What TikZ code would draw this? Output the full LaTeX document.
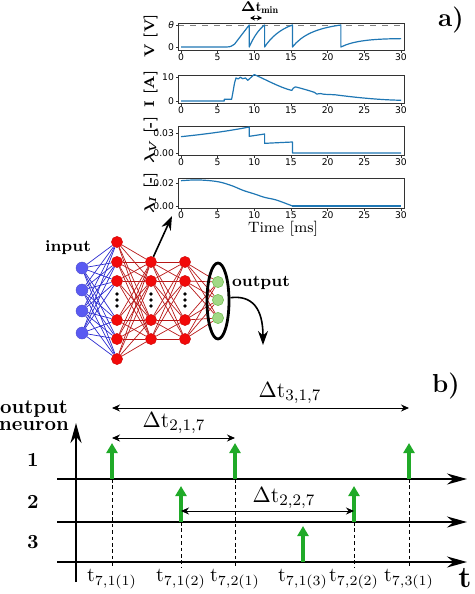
\documentclass[tikz,border=0pt]{standalone}
\usepackage{fontspec}
\usepackage{amsmath}
\usepackage{tikz}
\usetikzlibrary{arrows.meta, shapes.geometric, backgrounds}
\newfontfamily\tickfont{DejaVu Sans}
\definecolor{curve}{HTML}{1F77B4}
\definecolor{axgray}{HTML}{333333}
\definecolor{inblue}{HTML}{5A5AF2}
\definecolor{wireblue}{HTML}{2A2ACF}
\definecolor{hidred}{HTML}{F20A0A}
\definecolor{wirered}{HTML}{B81818}
\definecolor{outgreen}{HTML}{A2D886}
\definecolor{outedge}{HTML}{72BE52}
\definecolor{spikegreen}{HTML}{20AA28}

\begin{document}
\begin{tikzpicture}[x=0.5pt, y=-0.5pt,
    frame/.style={draw=axgray, line width=0.4pt},
    ticklab/.style={font=\tickfont\fontsize{4.6}{5}\selectfont, inner sep=0.6pt},
    ylab/.style={font=\bfseries\fontsize{7}{8}\selectfont, rotate=90, anchor=south, inner sep=1pt},
    trace/.style={draw=curve, line width=0.6pt, line join=round},
    inode/.style={circle, fill=inblue, draw=inblue!85!black, line width=0.2pt, minimum size=6pt, inner sep=0pt},
    hnode/.style={circle, fill=hidred, draw=hidred!85!black, line width=0.2pt, minimum size=5.6pt, inner sep=0pt},
    onode/.style={circle, fill=outgreen, draw=outedge, line width=0.3pt, minimum size=5.6pt, inner sep=0pt},
    bwire/.style={draw=wireblue, line width=0.35pt},
    rwire/.style={draw=wirered, line width=0.35pt},
    netarr/.style={-{Stealth[length=7pt, width=5pt]}, line width=0.8pt},
    taxis/.style={-{Stealth[length=10pt, width=5.5pt]}, line width=0.8pt},
    spk/.style={-{Triangle[length=5pt, width=5.5pt]}, draw=spikegreen, color=spikegreen, line width=2.2pt},
    drop/.style={dash pattern=on 1.8pt off 1.4pt, line width=0.35pt},
    dbl/.style={{Stealth[length=4pt, width=3.5pt]}-{Stealth[length=4pt, width=3.5pt]}, line width=0.45pt},
    lab/.style={font=\bfseries\fontsize{8}{9}\selectfont},
    rowlab/.style={font=\bfseries\fontsize{10}{12}\selectfont},
    panel/.style={font=\bfseries\fontsize{13}{15}\selectfont}
]
\useasboundingbox (0,0) rectangle (475,594);

% panel a: the four traces
\draw[gray, dashed, line width=0.4pt] (178,25) -- (404,25);
\foreach \top/\bot [count=\p] in {23/50, 75/103, 126/155, 178/208} {
    \draw[frame] (178,\top) rectangle (404,\bot);
    \foreach \t in {0,5,...,30}
        \draw[frame] ({181+7.333*\t},\bot) -- ++(0,2.5) node[ticklab, anchor=north] (xt\p-\t) {\t};
}
\foreach \y/\v [count=\k] in {25/{\itshape θ}, 47/0, 77/10, 101/0, 133/0.03, 153/0.00, 183/0.02, 206/0.00}
    \draw[frame] (178,\y) -- ++(-2.5,0) node[ticklab, anchor=east] (yt\k) {\v};

\begin{scope}[shift={(181,47)}, x=3.667pt, y=11pt]
\draw[trace] (0,0) -- (6.2,0) .. controls (6.8,0) and (7,0.06) .. (7.3,0.13) -- (9.3,1) -- (9.3,0)
    .. controls (9.9,0.45) and (10.6,0.8) .. (11.4,1) -- (11.4,0)
    .. controls (12.3,0.45) and (13.5,0.8) .. (15.2,1) -- (15.2,0)
    .. controls (16.5,0.55) and (18.5,0.85) .. (21.8,1) -- (21.8,0)
    .. controls (23.5,0.28) and (26,0.37) .. (30,0.38);
\end{scope}

\begin{scope}[shift={(181,101)}, x=3.667pt, y=1.2pt]
\draw[trace] (0,0) -- (5.9,0) -- (5.9,0.7) -- (6.9,0.7) -- (7.1,4) -- (7.3,7.5) -- (7.5,9.6)
    -- (7.8,9.2) -- (8.1,9.9) -- (8.4,9.3) -- (8.8,9.6) -- (9.1,8.6) -- (9.4,9.4) -- (9.7,10.3)
    -- (10,11) .. controls (11.5,9) and (13.5,5.6) .. (15.1,4.4) -- (15.3,5.3) -- (15.6,5.9)
    .. controls (16.5,5.2) and (17.5,4.3) .. (18.2,3.6) -- (18.5,2.9) -- (19,3.1) -- (19.5,2.8)
    -- (21,2.6) .. controls (24,1.4) and (27,0.5) .. (30,0.3);
\end{scope}

\begin{scope}[shift={(181,153)}, x=3.667pt, y=3.333pt]
\draw[trace] (0,2.45) .. controls (4,2.9) and (7,3.4) .. (9.3,3.9) -- (9.3,2.5) -- (11.4,2.85)
    -- (11.4,1.45) -- (15.2,1.65) -- (15.2,0) -- (30,0);
\end{scope}

\begin{scope}[shift={(181,206)}, x=3.667pt, y=5.75pt]
\draw[trace] plot[smooth] coordinates {(0,2.2) (2,2.27) (4,2.2) (5.5,2.05) (7,1.75) (8.5,1.35)
    (10,1.05) (11.4,0.75) (13,0.52) (15.2,0)};
\draw[trace] (15.2,0) -- (30,0);
\end{scope}

\node[ylab] (ylv) at (160,36) {V [V]};
\node[ylab] (yli) at (160,89) {I [A]};
\node[ylab] (ylav) at (160,140) {$\boldsymbol{\lambda}_{\boldsymbol{V}}$ [-]};
\node[ylab] (ylai) at (160,193) {$\boldsymbol{\lambda}_{\boldsymbol{I}}$ [-]};
\node[font=\fontsize{7.5}{9}\selectfont] (tms) at (283,229) {Time [ms]};

\node[font=\bfseries\fontsize{7}{8}\selectfont] (dtmin) at (260,8) {$\boldsymbol{\Delta}\mathbf{t}_{\mathbf{min}}$};
\coordinate (dminl) at (250,18);
\coordinate (dminr) at (262,18);
\draw[{Stealth[length=2.5pt, width=2.5pt]}-{Stealth[length=2.5pt, width=2.5pt]}, line width=0.5pt] (dminl) -- (dminr);

\node[panel] (pa) at (451,20) {a)};

% network
\foreach \y [count=\i] in {268,290,311,333}
    \node[inode] (in\i) at (82,\y) {};
\foreach \y [count=\i] in {242,262,281,320,339,359}
    \node[hnode] (ha\i) at (117,\y) {};
\foreach \y [count=\i] in {262,281,320,339} {
    \node[hnode] (hb\i) at (151,\y) {};
    \node[hnode] (hc\i) at (185,\y) {};
}
\foreach \y [count=\i] in {282,300,318}
    \node[onode] (out\i) at (218,\y) {};

\begin{scope}[on background layer]
\foreach \i in {1,...,4}
    \foreach \j in {1,...,6}
        \draw[bwire] (in\i) -- (ha\j);
\foreach \i in {1,...,6}
    \foreach \j in {1,...,4}
        \draw[rwire] (ha\i) -- (hb\j);
\foreach \i in {1,...,4} {
    \foreach \j in {1,...,4}
        \draw[rwire] (hb\i) -- (hc\j);
    \foreach \j in {1,...,3}
        \draw[rwire] (hc\i) -- (out\j);
}
\end{scope}

\foreach \x in {117,151,185}
    \foreach \y in {294,300,306}
        \fill (\x,\y) circle (0.9pt);

\node[draw, ellipse, line width=1.4pt, minimum width=11pt, minimum height=38pt, inner sep=0pt] (ring) at (218,301) {};
\node[lab] (inlab) at (68,248) {input};
\node[lab] (outlab) at (261,283) {output};

\coordinate (plotlink) at (172,216);
\coordinate (outlink) at (263,345);
\draw[netarr] (hb1) -- (plotlink);
\draw[netarr] (ring.15) .. controls (252,295) and (263,308) .. (outlink);

% panel b: spike trains
\node[panel] (pb) at (446,386) {b)};
\node[align=center, font=\bfseries\fontsize{10}{8.5}\selectfont] (oneuron) at (34,416) {output\\neuron};

\coordinate (yfoot) at (76,582);
\coordinate (ytop) at (76,423);
\draw[taxis, line width=1.2pt] (yfoot) -- (ytop);
\foreach \y [count=\r] in {479,522,562} {
    \coordinate (row\r) at (57,\y);
    \coordinate (rowend\r) at (467,\y);
    \draw[taxis] (row\r) -- (rowend\r);
}
\foreach \y/\r in {460/1, 502/2, 542/3}
    \node[rowlab] (rl\r) at (33,\y) {\r};

\foreach \x/\y/\n in {112/479/a, 235/479/b, 409/479/c, 181/522/d, 354/522/e, 303/562/f} {
    \coordinate (base\n) at (\x,\y);
    \coordinate (tip\n) at (\x,\y-36);
    \coordinate (foot\n) at (\x,567);
}
\foreach \n in {a,b,c,d,e}
    \draw[drop] (base\n) -- (foot\n);
\foreach \n in {a,b,c,d,e,f}
    \draw[spk] (base\n) -- (tip\n);

\foreach \n/\lab in {a/{7,1(1)}, d/{7,1(2)}, b/{7,2(1)}, f/{7,1(3)}, e/{7,2(2)}, c/{7,3(1)}}
    \node[below, inner sep=1pt] (t\n) at (foot\n) {$\mathrm{t}_{\lab}$};

\draw[dbl] (basea |- 0,408) -- (basec |- 0,408);
\draw[dbl] (basea |- 0,438) -- (baseb |- 0,438);
\draw[dbl] (based |- 0,511) -- (basee |- 0,511);
\node[anchor=base, font=\fontsize{11}{13}\selectfont] (d317) at (290,397) {$\Delta\mathrm{t}_{3,1,7}$};
\node[anchor=base, font=\fontsize{11}{13}\selectfont] (d217) at (174,427) {$\Delta\mathrm{t}_{2,1,7}$};
\node[anchor=base, font=\fontsize{11}{13}\selectfont] (d227) at (284,502) {$\Delta\mathrm{t}_{2,2,7}$};

\node[anchor=base east, inner sep=0pt, font=\bfseries\fontsize{15}{17}\selectfont] (tax) at (472,587) {t};
\end{tikzpicture}
\end{document}
